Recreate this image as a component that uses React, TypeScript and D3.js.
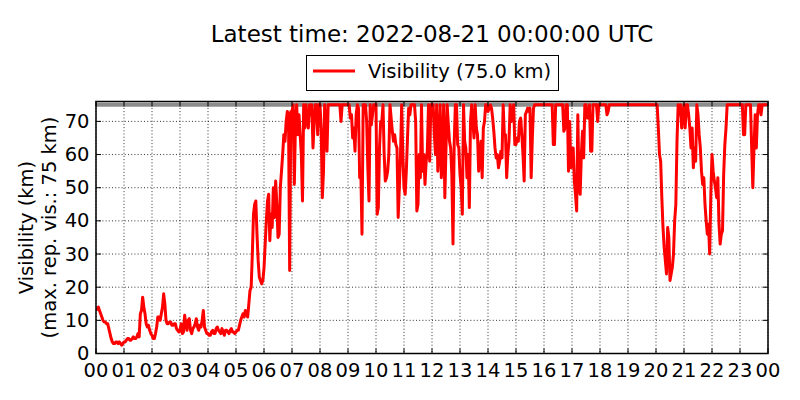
import React, { useEffect, useRef } from "react";
import * as d3 from "d3";

// visibility samples (km), every 2.5 minutes from 2022-08-20 00:00 to 2022-08-21 00:00 UTC
const visibility = [
  13, 13.5, 14, 13, 12, 11, 10, 9.5, 9.5, 9, 9, 7.5, 6, 4.5, 3.5, 3, 3, 3.5, 3.5, 3, 3.5, 3, 2.5, 3, // 00
  3.5, 3.5, 4, 4.5, 4.5, 4, 4, 4.5, 5, 4.5, 4.5, 5, 6, 5, 12, 13, 17, 14, 12, 9, 8, 8.5, 7, 6, // 01
  5.5, 4.5, 4.5, 6, 8, 11, 11, 10, 12, 14, 18, 15, 10, 9, 9, 9.5, 9.5, 8.5, 8.5, 9, 9, 7.5, 7, 6.5, // 02
  7, 9, 6, 6.5, 11.5, 9, 7, 10, 10.5, 7, 6, 7.5, 8, 9, 10.5, 8, 7, 8.5, 8, 10, 13, 8, 7, 6, // 03
  6, 5.5, 5.5, 6.5, 7, 6, 6, 7.5, 8, 7, 6.5, 6, 7.5, 6.5, 5.5, 7, 7, 6.5, 6, 7, 7.5, 6.5, 6.5, 6, // 04
  6.5, 7, 7, 8.5, 10, 11, 12, 11, 13, 12, 11, 15, 19, 20, 30, 42, 45, 46, 36, 28, 23, 22, 21, 22, // 05
  25.7, 33, 40, 46, 48, 34, 42, 38, 50, 41, 52, 45, 35, 36, 50, 55, 60, 66, 64, 70, 73, 72, 25, 73, // 06
  73, 75, 51, 70, 75, 66, 72, 66, 60, 46, 75, 68, 75, 70, 68, 75, 72, 75, 62, 70, 75, 75, 66, 75, // 07
  75, 68, 47, 55, 75, 70, 61, 75, 75, 75, 75, 75, 75, 75, 75, 75, 75, 75, 70, 75, 75, 75, 75, 75, // 08
  75, 75, 71, 72, 65, 68, 61, 72, 75, 74, 53, 55, 36, 75, 75, 75, 70, 56, 46, 75, 69, 72, 75, 75, // 09
  75, 42, 44, 62, 70, 70, 75, 60, 52, 53, 55, 60, 75, 71, 67, 64, 66, 63, 62, 41, 50, 60, 75, 60, // 10
  50, 48, 55, 65, 74, 72, 75, 75, 75, 75, 70, 43, 45, 60, 53, 75, 55, 60, 51, 58, 61, 75, 58, 75, // 11
  75, 75, 66, 60, 75, 55, 62, 75, 53, 60, 75, 47, 62, 75, 69, 64, 62, 54, 33, 63, 75, 75, 63, 62, // 12
  54, 50, 42, 75, 64, 62, 53, 60, 44, 70, 75, 70, 65, 75, 68, 66, 55, 59, 64, 53, 68, 70, 75, 75, // 13
  73, 74, 75, 74, 71, 67, 62, 59, 60, 56, 58, 61, 59, 75, 66, 66, 53, 60, 64, 75, 70, 73, 75, 63, // 14
  63, 65, 64, 70, 71, 66, 60, 52, 72, 73, 74, 73, 74, 53, 65, 74, 75, 75, 75, 75, 75, 75, 75, 75, // 15
  75, 75, 75, 75, 75, 75, 75, 75, 63, 63, 75, 75, 75, 75, 75, 75, 75, 67, 68, 75, 75, 55, 70, 56, // 16
  60, 62, 52, 48, 43, 72, 50, 48, 60, 67, 59, 75, 75, 71, 71, 75, 61, 61, 75, 75, 75, 75, 70, 75, // 17
  75, 75, 75, 75, 75, 75, 72, 73, 75, 75, 75, 75, 75, 75, 75, 75, 75, 75, 75, 75, 75, 75, 75, 75, // 18
  75, 75, 75, 75, 75, 75, 75, 75, 75, 75, 75, 75, 75, 75, 75, 75, 75, 75, 75, 75, 75, 75, 75, 75, // 19
  75, 75, 68, 60, 58, 47, 38, 32, 28, 24, 38, 35, 22, 24, 26, 30, 40, 45, 64, 75, 72, 75, 68, 72, // 20
  75, 68, 75, 75, 72, 68, 62, 68, 56, 62, 58, 75, 72, 66, 62, 55, 51, 53, 45, 40, 36, 39, 30, 48, // 21
  60, 55, 52, 50, 47, 53, 39, 33, 36, 37, 54, 63, 68, 75, 75, 75, 75, 75, 75, 75, 75, 75, 75, 75, // 22
  75, 75, 75, 66, 66, 75, 75, 75, 75, 75, 62, 50, 62, 72, 62, 72, 75, 75, 72, 75, 75, 75, 75, 75, // 23
  75,
];

const stepSeconds = 150;
const maxReported = 75;
const yTicks = [0, 10, 20, 30, 40, 50, 60, 70];
const start = new Date(Date.UTC(2022, 7, 20, 0, 0));
const end = new Date(Date.UTC(2022, 7, 21, 0, 0));
const title = "Latest time: 2022-08-21 00:00:00 UTC";
const legendLabel = "Visibility (75.0 km)";
const yLabels = ["Visibility (km)", "(max. rep. vis.: 75 km)"];

const font = "DejaVu Sans, sans-serif";

export default function App() {
  const ref = useRef<SVGSVGElement>(null);

  useEffect(() => {
    const svg = d3.select(ref.current);
    svg.selectAll("*").remove();

    const left = 96, right = 768, top = 101.5, bottom = 353.5;

    const x = d3.scaleUtc().domain([start, end]).range([left, right]);
    const y = d3.scaleLinear().domain([0, 76]).range([bottom, top]);

    const points = visibility.map((v, i) => ({ t: d3.utcSecond.offset(start, i * stepSeconds), v }));
    const xTicks = d3.utcHour.range(start, d3.utcHour.offset(end, 1));

    svg.append("rect").attr("width", 800).attr("height", 400).attr("fill", "#fff");

    svg.append("clipPath").attr("id", "plot-clip")
      .append("rect")
      .attr("x", left).attr("y", top)
      .attr("width", right - left).attr("height", bottom - top);

    // dotted grid
    const grid = svg.append("g").attr("stroke", "#000").attr("stroke-width", 0.8)
      .attr("stroke-dasharray", "1,2.2");
    grid.selectAll("line.gx").data(xTicks).enter().append("line")
      .attr("x1", (d) => x(d)).attr("x2", (d) => x(d))
      .attr("y1", top).attr("y2", bottom);
    grid.selectAll("line.gy").data(yTicks).enter().append("line")
      .attr("x1", left).attr("x2", right)
      .attr("y1", (d) => y(d)).attr("y2", (d) => y(d));

    const plot = svg.append("g").attr("clip-path", "url(#plot-clip)");

    // max. reported visibility
    plot.append("line")
      .attr("x1", left).attr("x2", right)
      .attr("y1", y(maxReported)).attr("y2", y(maxReported))
      .attr("stroke", "#8c8c8c").attr("stroke-width", 4);

    const line = d3.line<{ t: Date; v: number }>()
      .x((d) => x(d.t))
      .y((d) => y(d.v));

    plot.append("path")
      .datum(points)
      .attr("d", line)
      .attr("fill", "none")
      .attr("stroke", "#ff0000")
      .attr("stroke-width", 3)
      .attr("stroke-linejoin", "round");

    // inward ticks on all four sides
    const tl = 5;
    const ticks = svg.append("g").attr("stroke", "#000").attr("stroke-width", 1);
    xTicks.forEach((d) => {
      ticks.append("line").attr("x1", x(d)).attr("x2", x(d)).attr("y1", bottom).attr("y2", bottom - tl);
      ticks.append("line").attr("x1", x(d)).attr("x2", x(d)).attr("y1", top).attr("y2", top + tl);
    });
    yTicks.forEach((d) => {
      ticks.append("line").attr("x1", left).attr("x2", left + tl).attr("y1", y(d)).attr("y2", y(d));
      ticks.append("line").attr("x1", right).attr("x2", right - tl).attr("y1", y(d)).attr("y2", y(d));
    });

    svg.append("rect")
      .attr("x", left).attr("y", top)
      .attr("width", right - left).attr("height", bottom - top)
      .attr("fill", "none").attr("stroke", "#000").attr("stroke-width", 1.5);

    const fmt = d3.utcFormat("%H");
    svg.append("g").selectAll("text").data(xTicks).enter().append("text")
      .attr("x", (d) => x(d)).attr("y", 376.5)
      .attr("text-anchor", "middle")
      .attr("font-family", font).attr("font-size", 19.5)
      .text((d) => fmt(d));

    svg.append("g").selectAll("text").data(yTicks).enter().append("text")
      .attr("x", 89.5).attr("y", (d) => y(d) + 6.5)
      .attr("text-anchor", "end")
      .attr("font-family", font).attr("font-size", 19.5)
      .text((d) => String(d));

    const cy = (top + bottom) / 2;
    const labelX = [32.5, 56];
    yLabels.forEach((label, i) => {
      svg.append("text")
        .attr("transform", `translate(${labelX[i]},${cy}) rotate(-90)`)
        .attr("text-anchor", "middle")
        .attr("font-family", font).attr("font-size", 19.5)
        .text(label);
    });

    svg.append("text")
      .attr("x", (left + right) / 2).attr("y", 42)
      .attr("text-anchor", "middle")
      .attr("font-family", font).attr("font-size", 23)
      .text(title);

    const legend = svg.append("g");
    legend.append("rect")
      .attr("x", 306.5).attr("y", 55.5).attr("width", 252).attr("height", 35)
      .attr("fill", "#fff").attr("stroke", "#000").attr("stroke-width", 1);
    legend.append("line")
      .attr("x1", 313).attr("x2", 355).attr("y1", 71).attr("y2", 71)
      .attr("stroke", "#ff0000").attr("stroke-width", 3);
    legend.append("text")
      .attr("x", 368).attr("y", 78)
      .attr("font-family", font).attr("font-size", 19.5)
      .text(legendLabel);
  }, []);

  return (
    <svg
      ref={ref}
      width={800}
      height={400}
      style={{ position: "absolute", left: 0, top: 0 }}
    />
  );
}
